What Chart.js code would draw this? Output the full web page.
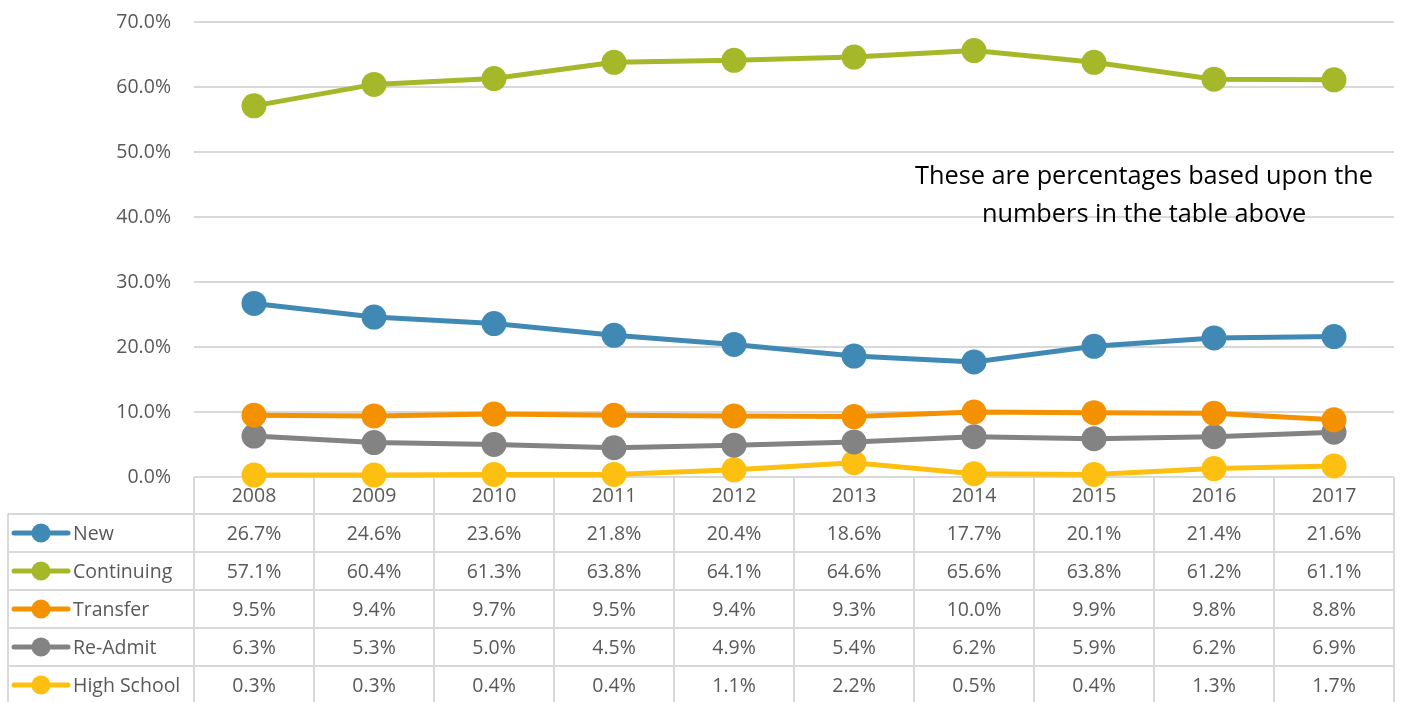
<!DOCTYPE html>
<html>
<head>
<meta charset="utf-8">
<script src="https://cdn.jsdelivr.net/npm/chart.js@4.4.1/dist/chart.umd.min.js"></script>
<style>
  body { margin: 0; background: #fff; }
  #wrap { width: 1403px; height: 702px; position: relative; }
</style>
</head>
<body>
<div id="wrap"><canvas id="enroll"></canvas></div>
<script>
const years = ['2008','2009','2010','2011','2012','2013','2014','2015','2016','2017']
const seriesNames = ['New','Continuing','Transfer','Re-Admit','High School']
const newVals = [26.7,24.6,23.6,21.8,20.4,18.6,17.7,20.1,21.4,21.6]
const continuingVals = [57.1,60.4,61.3,63.8,64.1,64.6,65.6,63.8,61.2,61.1]
const transferVals = [9.5,9.4,9.7,9.5,9.4,9.3,10.0,9.9,9.8,8.8]
const readmitVals = [6.3,5.3,5.0,4.5,4.9,5.4,6.2,5.9,6.2,6.9]
const highSchoolVals = [0.3,0.3,0.4,0.4,1.1,2.2,0.5,0.4,1.3,1.7]
const colors = ['#4189B5','#A5B82A','#F39100','#838383','#FDC010']
const note = ['These are percentages based upon the','numbers in the table above']

const textGrey = '#595959'
const lineGrey = '#D9D9D9'
const font = '"Open Sans", sans-serif'

const allVals = [newVals, continuingVals, transferVals, readmitVals, highSchoolVals]

// table drawn under the lines, like the excel data table
const dataTable = {
  id: 'dataTable',
  beforeDatasetsDraw(chart) {
    const ctx = chart.ctx
    const x = chart.scales.x
    const area = chart.chartArea
    const half = (x.getPixelForValue(1) - x.getPixelForValue(0)) / 2
    const left = 8
    const headTop = area.bottom
    const headH = 37
    const rowH = 38
    const bottom = headTop + headH + rowH * seriesNames.length
    ctx.save()
    ctx.strokeStyle = lineGrey
    ctx.lineWidth = 2
    // horizontal lines
    ctx.beginPath()
    ctx.moveTo(area.left, headTop)
    ctx.lineTo(area.right, headTop)
    for (let r = 0; r <= seriesNames.length; r++) {
      const y = headTop + headH + r * rowH
      ctx.moveTo(left, y)
      ctx.lineTo(area.right, y)
    }
    // vertical lines
    ctx.moveTo(left, headTop + headH)
    ctx.lineTo(left, bottom)
    for (let i = 0; i <= years.length; i++) {
      const cx = x.getPixelForValue(0) - half + i * half * 2
      ctx.moveTo(cx, headTop)
      ctx.lineTo(cx, bottom)
    }
    ctx.stroke()

    ctx.fillStyle = textGrey
    ctx.font = '19.5px ' + font
    ctx.textAlign = 'center'
    ctx.textBaseline = 'middle'
    years.forEach((yr, i) => {
      ctx.fillText(yr, x.getPixelForValue(i), headTop + headH / 2 + 1)
    })
    allVals.forEach((vals, r) => {
      const cy = headTop + headH + r * rowH + rowH / 2 + 1
      ctx.textAlign = 'center'
      ctx.fillStyle = textGrey
      vals.forEach((v, i) => {
        ctx.fillText(v.toFixed(1) + '%', x.getPixelForValue(i), cy)
      })
      // legend key
      ctx.strokeStyle = colors[r]
      ctx.lineWidth = 5
      ctx.lineCap = 'round'
      ctx.beginPath()
      ctx.moveTo(14, cy - 1)
      ctx.lineTo(68, cy - 1)
      ctx.stroke()
      ctx.fillStyle = colors[r]
      ctx.beginPath()
      ctx.arc(41, cy - 1, 9.5, 0, Math.PI * 2)
      ctx.fill()
      ctx.fillStyle = textGrey
      ctx.textAlign = 'left'
      ctx.fillText(seriesNames[r], 73, cy)
    })

    // note text
    ctx.fillStyle = '#000'
    ctx.font = '25.3px ' + font
    ctx.textAlign = 'center'
    ctx.fillText(note[0], 1144, 177)
    ctx.fillText(note[1], 1144, 215)
    ctx.restore()
  }
}

new Chart('enroll', {
  type: 'line',
  data: {
    labels: years,
    datasets: allVals.map((vals, i) => ({
      label: seriesNames[i],
      data: vals,
      borderColor: colors[i],
      backgroundColor: colors[i],
      borderWidth: 5,
      pointRadius: 12.5,
      pointHoverRadius: 12.5,
      pointBorderWidth: 0,
      clip: false
    }))
  },
  options: {
    responsive: true,
    maintainAspectRatio: false,
    animation: false,
    layout: {
      autoPadding: false,
      padding: { top: 22, bottom: 225, right: 9, left: 0 }
    },
    plugins: {
      legend: { display: false },
      tooltip: { enabled: false }
    },
    scales: {
      x: {
        display: false,
        offset: true
      },
      y: {
        min: 0,
        max: 70,
        afterFit(scale) {
          scale.width = 194
          scale.paddingTop = 0
          scale.paddingBottom = 0
        },
        ticks: {
          stepSize: 10,
          padding: 23,
          color: textGrey,
          font: { family: font, size: 19.5 },
          callback: v => v.toFixed(1) + '%'
        },
        grid: {
          color: lineGrey,
          lineWidth: 2,
          drawTicks: false
        },
        border: { display: false }
      }
    }
  },
  plugins: [dataTable]
})
</script>
</body>
</html>
